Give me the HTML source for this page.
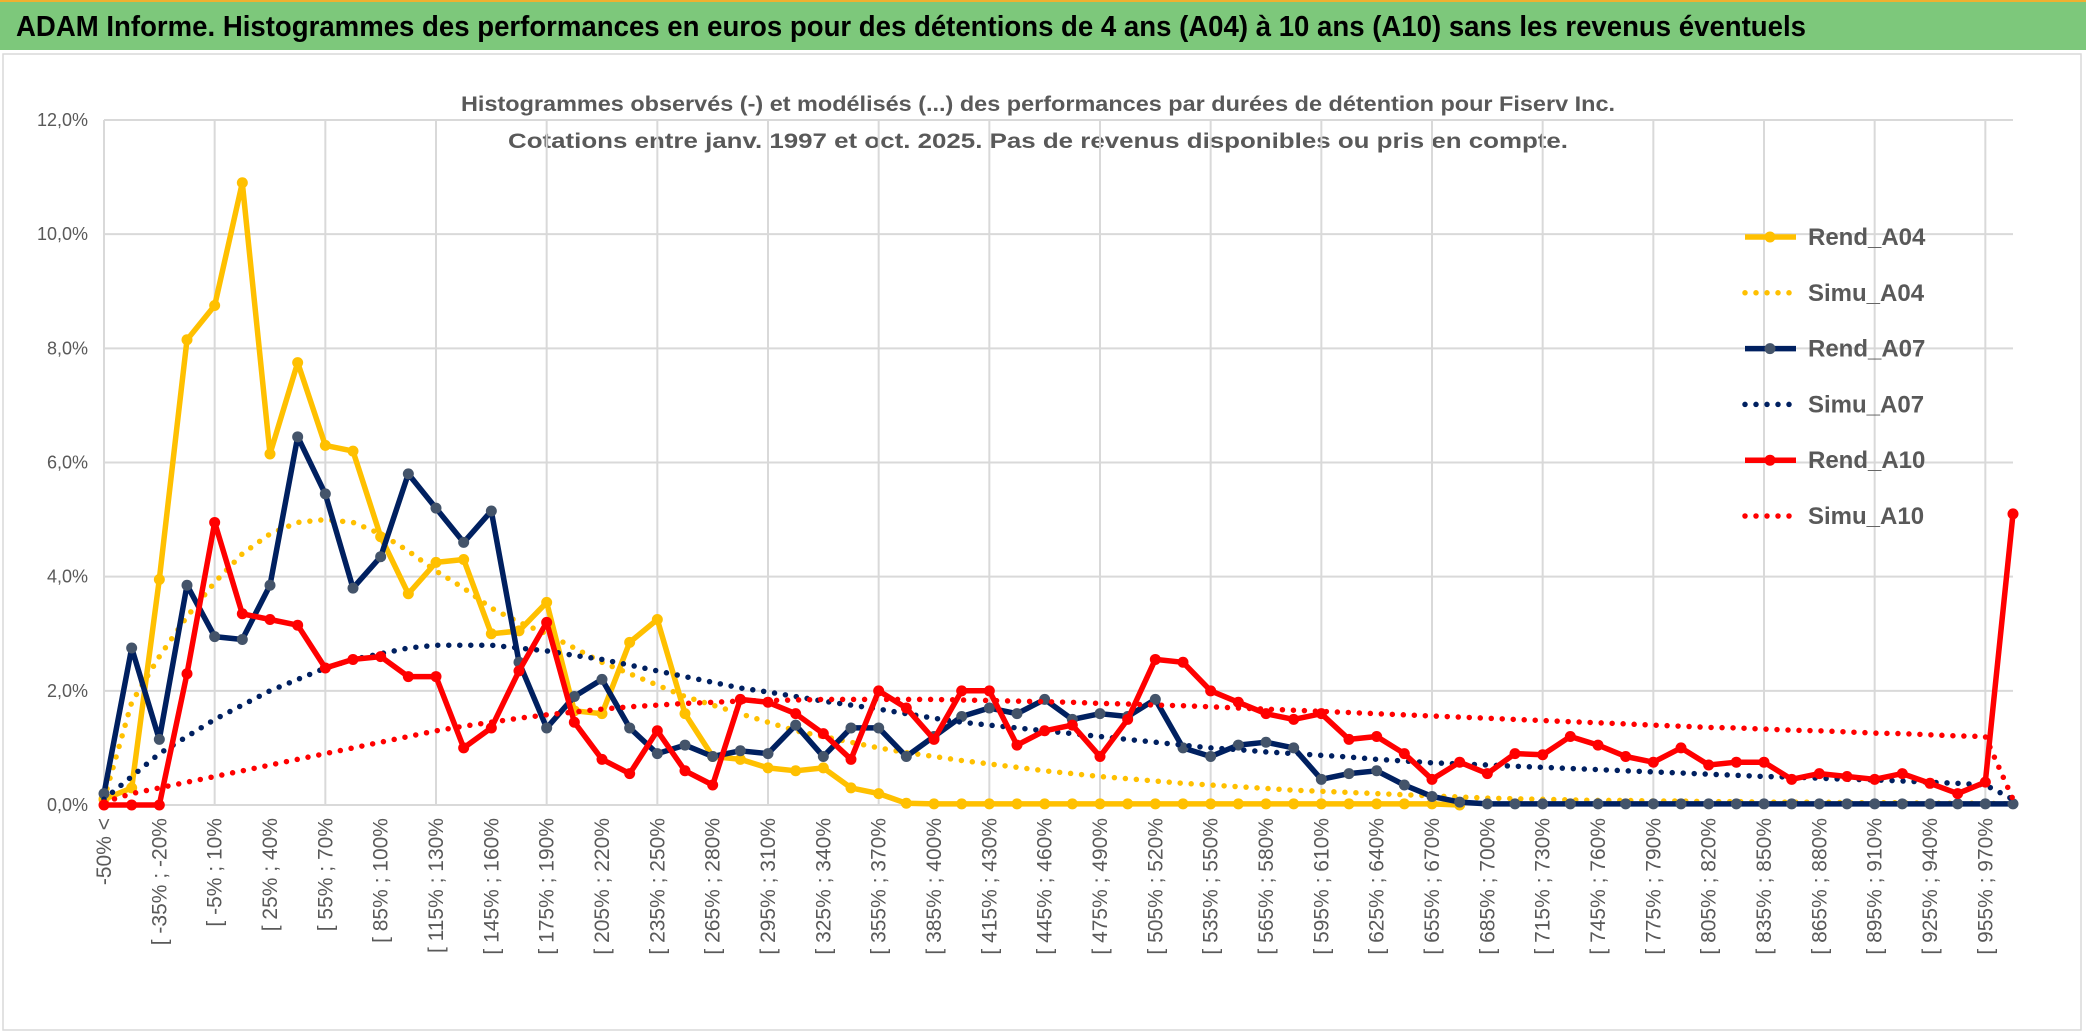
<!DOCTYPE html>
<html><head><meta charset="utf-8"><style>
body{margin:0;background:#fff;}
svg{display:block;font-family:"Liberation Sans",sans-serif;}
</style></head><body>
<svg id="c" width="2086" height="1033" viewBox="0 0 2086 1033">
<rect x="0" y="0" width="2086" height="1033" fill="#fff"/>
<rect x="0" y="0" width="2086" height="50" fill="#7dc87b"/>
<line x1="0" y1="1" x2="2086" y2="1" stroke="#f0b030" stroke-width="2"/>
<text x="16" y="36" font-size="29" font-weight="bold" fill="#000" textLength="1790" lengthAdjust="spacingAndGlyphs">ADAM Informe. Histogrammes des performances en euros pour des détentions de 4 ans (A04) à 10 ans (A10) sans les revenus éventuels</text>
<rect x="3" y="54" width="2078" height="976" fill="none" stroke="#d9d9d9" stroke-width="1.5"/>
<text x="1038" y="111" font-size="21" font-weight="bold" fill="#595959" text-anchor="middle" textLength="1154" lengthAdjust="spacingAndGlyphs">Histogrammes observés (-) et modélisés (...) des performances par durées de détention pour Fiserv Inc.</text>
<text x="1038" y="148" font-size="21" font-weight="bold" fill="#595959" text-anchor="middle" textLength="1060" lengthAdjust="spacingAndGlyphs">Cotations entre janv. 1997 et oct. 2025. Pas de revenus disponibles ou pris en compte.</text>
<g id="grid"></g><g id="axes"></g><g id="series"></g><g id="legend"></g>
</svg>
<script>
const categories = [];
categories.push("-50% <");
for (let a = -50; a < 970; a += 15) categories.push("[ " + a + "% ; " + (a + 15) + "%");
categories.push("970% >");
const yTicks = [0, 2, 4, 6, 8, 10, 12];
const yTickLabels = ["0,0%", "2,0%", "4,0%", "6,0%", "8,0%", "10,0%", "12,0%"];
const rendA04 = [0.1,0.3,3.95,8.15,8.75,10.9,6.15,7.75,6.3,6.2,4.7,3.7,4.25,4.3,3.0,3.05,3.55,1.65,1.6,2.85,3.25,1.6,0.85,0.8,0.65,0.6,0.65,0.3,0.2,0.03,0.02,0.02,0.02,0.02,0.02,0.02,0.02,0.02,0.02,0.02,0.02,0.02,0.02,0.02,0.02,0.02,0.02,0.02,0.02,0.0];
const simuA04 = [0.1,1.8,2.6,3.3,3.9,4.4,4.75,4.95,5.0,4.95,4.75,4.45,4.1,3.8,3.45,3.2,3.0,2.75,2.5,2.3,2.1,1.9,1.75,1.6,1.45,1.3,1.2,1.1,1.0,0.92,0.85,0.78,0.72,0.66,0.6,0.55,0.5,0.46,0.42,0.38,0.35,0.32,0.29,0.26,0.24,0.22,0.2,0.18,0.16,0.14,0.12,0.11,0.1,0.09,0.08,0.08,0.07,0.07,0.06,0.06,0.05,0.05,0.05,0.04,0.04,0.04,0.03,0.03,0.03,0.02];
const rendA07 = [0.2,2.75,1.15,3.85,2.95,2.9,3.85,6.45,5.45,3.8,4.35,5.8,5.2,4.6,5.15,2.5,1.35,1.9,2.2,1.35,0.9,1.05,0.85,0.95,0.9,1.4,0.85,1.35,1.35,0.85,1.2,1.55,1.7,1.6,1.85,1.5,1.6,1.55,1.85,1.0,0.85,1.05,1.1,1.0,0.45,0.55,0.6,0.35,0.15,0.05,0.02,0.02,0.02,0.02,0.02,0.02,0.02,0.02,0.02,0.02,0.02,0.02,0.02,0.02,0.02,0.02,0.02,0.02,0.02,0.02];
const simuA07 = [0.1,0.5,0.9,1.2,1.5,1.75,2.0,2.2,2.4,2.55,2.65,2.75,2.8,2.8,2.8,2.75,2.7,2.62,2.55,2.45,2.35,2.25,2.15,2.05,1.98,1.9,1.82,1.75,1.68,1.6,1.52,1.45,1.4,1.35,1.3,1.25,1.2,1.15,1.1,1.05,1.0,0.97,0.93,0.9,0.87,0.84,0.8,0.77,0.74,0.72,0.7,0.68,0.66,0.64,0.62,0.6,0.58,0.56,0.54,0.52,0.5,0.49,0.47,0.45,0.44,0.42,0.4,0.38,0.35,0.1];
const rendA10 = [0,0,0,2.3,4.95,3.35,3.25,3.15,2.4,2.55,2.6,2.25,2.25,1.0,1.35,2.35,3.2,1.45,0.8,0.55,1.3,0.6,0.35,1.85,1.8,1.6,1.25,0.8,2.0,1.7,1.15,2.0,2.0,1.05,1.3,1.4,0.85,1.5,2.55,2.5,2.0,1.8,1.6,1.5,1.6,1.15,1.2,0.9,0.45,0.75,0.55,0.9,0.88,1.2,1.05,0.85,0.75,1.0,0.7,0.75,0.75,0.45,0.55,0.5,0.45,0.55,0.38,0.2,0.4,5.1];
const simuA10 = [0.05,0.2,0.3,0.4,0.5,0.6,0.7,0.8,0.9,1.0,1.1,1.2,1.3,1.38,1.45,1.52,1.58,1.63,1.68,1.72,1.75,1.78,1.8,1.82,1.83,1.84,1.85,1.85,1.85,1.85,1.85,1.84,1.83,1.82,1.81,1.8,1.78,1.77,1.75,1.74,1.72,1.7,1.68,1.66,1.64,1.62,1.6,1.58,1.56,1.54,1.52,1.5,1.48,1.46,1.44,1.42,1.4,1.38,1.36,1.35,1.33,1.31,1.3,1.28,1.26,1.25,1.23,1.21,1.2,0.1];

const NS = "http://www.w3.org/2000/svg";
const X0 = 104, X1 = 2013, Y0 = 805, YTOP = 120, YMAX = 12;
const n = categories.length;
function xs(i){ return X0 + (X1 - X0) * i / (n - 1); }
function ys(v){ return Y0 - (Y0 - YTOP) * v / YMAX; }
function mk(tag, attrs, parent){ const e = document.createElementNS(NS, tag); for (const k in attrs) e.setAttribute(k, attrs[k]); parent.appendChild(e); return e; }

const grid = document.getElementById("grid");
yTicks.forEach((t, k) => {
  const l = mk("line", {x1: X0, x2: X1, y1: ys(t), y2: ys(t), stroke: "#d9d9d9", "stroke-width": 2}, grid);
  
  
  const tx = mk("text", {x: X0 - 16, y: ys(t) + 6, "font-size": 18, fill: "#595959", "text-anchor": "end"}, grid);
  tx.textContent = yTickLabels[k];
  
  
});
for (let i = 0; i < n; i += 4) {
  const l = mk("line", {x1: xs(i), x2: xs(i), y1: YTOP, y2: Y0, stroke: "#d9d9d9", "stroke-width": 2}, grid);
  
  
}
const axes = document.getElementById("axes");
for (let i = 0; i < n - 1; i += 2) {
  const x = xs(i) + 7, y = 818;
  const tx = mk("text", {x: x, y: y, "font-size": 21, fill: "#595959", "text-anchor": "end", transform: "rotate(-90 " + x + " " + y + ")"}, axes);
  tx.textContent = categories[i];
  
  
}

const series = document.getElementById("series");
function pts(arr){ return arr.map((v, i) => xs(i).toFixed(1) + "," + ys(v).toFixed(1)).join(" "); }
function dotted(arr, color, name){
  const p = mk("polyline", {points: pts(arr), fill: "none", stroke: color, "stroke-width": 5.5, "stroke-linecap": "round", "stroke-dasharray": "0 11"}, series);
  
  
}
function solid(arr, color, mcolor, name){
  const g = mk("g", {}, series);
  
  
  const p = mk("polyline", {points: pts(arr), fill: "none", stroke: color, "stroke-width": 5.5, "stroke-linejoin": "round"}, g);
  
  
  arr.forEach((v, i) => {
    const c = mk("circle", {cx: xs(i), cy: ys(v), r: 5.5, fill: mcolor}, g);
    
    
  });
}
solid(rendA04, "#ffc000", "#ffc000", "rend-a04");
dotted(simuA04, "#ffc000", "simu-a04");
solid(rendA07, "#002060", "#44546a", "rend-a07");
dotted(simuA07, "#002060", "simu-a07");
solid(rendA10, "#ff0000", "#ff0000", "rend-a10");
dotted(simuA10, "#ff0000", "simu-a10");

const legend = document.getElementById("legend");
const legNames = ["Rend_A04","Simu_A04","Rend_A07","Simu_A07","Rend_A10","Simu_A10"];
const legColors = ["#ffc000","#ffc000","#002060","#002060","#ff0000","#ff0000"];
legNames.forEach((nm, k) => {
  const y = 237 + k * 55.8;
  const g = mk("g", {}, legend);
  
  
  const dot = nm.startsWith("Simu");
  mk("line", {x1: 1745, x2: 1796, y1: y, y2: y, stroke: legColors[k], "stroke-width": 5.5, "stroke-linecap": dot ? "round" : "butt", "stroke-dasharray": dot ? "0 11" : "none"}, g);
  if (!dot) mk("circle", {cx: 1770, cy: y, r: 5.5, fill: k === 2 ? "#44546a" : legColors[k]}, g);
  const t = mk("text", {x: 1808, y: y + 8, "font-size": 24, "font-weight": "bold", fill: "#595959"}, g);
  t.textContent = nm;
});
</script>
</body></html>
